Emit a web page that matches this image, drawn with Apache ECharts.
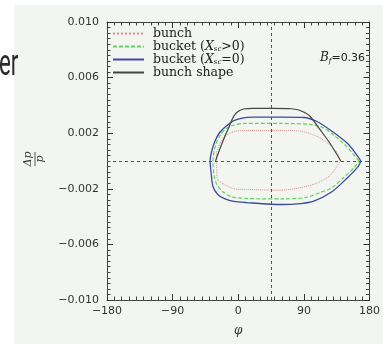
<!DOCTYPE html>
<html><head><meta charset="utf-8">
<script src="https://cdn.jsdelivr.net/npm/echarts@6/dist/echarts.min.js"></script>
<style>html,body{margin:0;padding:0;background:#fff}#c{width:383px;height:344px}</style>
</head><body><div id="c"></div>
<script>
// ---- data ----
const seriesNames = ['bunch', 'bucket (X_sc>0)', 'bucket (X_sc=0)', 'bunch shape'];
const xTicks = [-180, -90, 0, 90, 180];
const yTicks = [-0.010, -0.006, -0.002, 0.002, 0.006, 0.010];
const hLineY = 0;
const vLineX = 45;
const bunchPts = [[140.3,0],[135.5,0.00061],[125,0.00119],[107.6,0.00178],[85.7,0.00214],[59.6,0.00219],[20.3,0.00219],[-2,0.00216],[-10.2,0.00203],[-19,0.00176],[-25.5,0.00119],[-29.5,0.00061],[-30.1,0],[-29.5,-0.00061],[-28.1,-0.00133],[-19,-0.00169],[-5.9,-0.002],[13.7,-0.00205],[59.6,-0.0021],[102.8,-0.00169],[125,-0.00109],[135.5,-0.00037],[140.3,0]];
const bucketScPts = [[165.6,0],[148.6,0.00104],[131.6,0.00183],[115.9,0.00241],[98.8,0.00263],[59.6,0.0027],[7.2,0.0027],[-5.9,0.00259],[-16.4,0.00234],[-24.2,0.00191],[-30.8,0.00119],[-34.7,0],[-33.4,-0.00097],[-29.5,-0.00169],[-21.6,-0.00219],[-8.5,-0.00259],[13.7,-0.0027],[59.6,-0.00273],[92.3,-0.00263],[112,-0.00227],[129,-0.00191],[144.6,-0.00119],[159,-0.00047],[165.6,0]];
const bucketPts = [[168.3,0],[151.3,0.00119],[129,0.00212],[108,0.00284],[89.7,0.00313],[59.6,0.00315],[20.3,0.00315],[7.2,0.00311],[-5.9,0.00291],[-16.8,0.0025],[-25.5,0.00205],[-32,0.00142],[-36.4,0.0007],[-38.6,0],[-37.3,-0.00083],[-34.7,-0.00183],[-28.1,-0.00241],[-19,-0.0027],[-5.9,-0.00291],[11.1,-0.00299],[59.6,-0.00313],[85.7,-0.00306],[102.8,-0.00291],[129,-0.00219],[147.3,-0.00133],[164.3,-0.0004],[168.3,0]];
const shapePts = [[-31.2,0],[-25.5,0.00083],[-19,0.00169],[-12.4,0.00248],[-8.5,0.00299],[-3.3,0.00342],[2,0.00363],[7.2,0.00374],[20.3,0.00378],[46.5,0.00378],[72.6,0.00376],[83,0.00367],[92.3,0.00345],[98.8,0.0032],[112,0.00227],[125,0.00133],[140.7,0]];

const legendRich = {
  'bunch': 'bunch',
  'bucket (X_sc>0)': 'bucket ({i|X}{s|sc}>0)',
  'bucket (X_sc=0)': 'bucket ({i|X}{s|sc}=0)',
  'bunch shape': 'bunch shape'
};
const minus = v => String(v).replace('-', '\u2212');
const fmtY = v => minus((Math.round(v*1000)/1000).toFixed(3));

const chart = echarts.init(document.getElementById('c'));
const tickStyle = {color: '#333', width: 1};
const axisCommon = {
  type: 'value',
  axisLine: {show: true, onZero: false, lineStyle: {color: '#444', width: 1}},
  axisTick: {show: true, inside: true, length: 6, lineStyle: tickStyle},
  splitLine: {show: false},
  minorSplitLine: {show: false}
};
const labelStyle = {color: '#333', fontFamily: 'DejaVu Sans', fontSize: 11};
const lineSeries = (name, data, color, type, width) => ({
  name, type: 'line', data, showSymbol: false, symbol: 'none', smooth: 0.25,
  lineStyle: {color, type, width}, itemStyle: {color}, z: 3, animation: false
});
const xMinor = {show: true, splitNumber: 9, length: 3.5, lineStyle: {color: '#444', width: 1}};
const yMinor = {show: true, splitNumber: 10, length: 3.5, lineStyle: {color: '#444', width: 1}};
chart.setOption({
  animation: false,
  backgroundColor: 'transparent',
  grid: {left: 107, right: 1, top: 22, bottom: 44},
  xAxis: [
    Object.assign({}, axisCommon, {min: xTicks[0], max: xTicks[xTicks.length-1], interval: 90, position: 'bottom',
      minorTick: xMinor,
      axisLabel: Object.assign({}, labelStyle, {margin: 6, formatter: v => minus(v)}),
      name: 'φ', nameLocation: 'middle', nameGap: 25,
      nameTextStyle: {fontFamily: 'DejaVu Serif', fontStyle: 'italic', fontSize: 12, color: '#333'}}),
    Object.assign({}, axisCommon, {min: xTicks[0], max: xTicks[xTicks.length-1], interval: 90, position: 'top',
      minorTick: xMinor, axisLabel: {show: false}})
  ],
  yAxis: [
    Object.assign({}, axisCommon, {min: yTicks[0], max: yTicks[yTicks.length-1], interval: 0.004, position: 'left',
      minorTick: yMinor,
      axisLabel: Object.assign({}, labelStyle, {margin: 8, formatter: fmtY})}),
    Object.assign({}, axisCommon, {min: yTicks[0], max: yTicks[yTicks.length-1], interval: 0.004, position: 'right',
      minorTick: yMinor, axisLabel: {show: false}})
  ],
  legend: {
    orient: 'vertical', left: 112, top: 27, padding: 0, itemGap: 0, itemWidth: 31, itemHeight: 12,
    data: seriesNames,
    itemStyle: {opacity: 0},
    formatter: n => legendRich[n],
    textStyle: {fontFamily: 'DejaVu Serif', fontSize: 12.5, color: '#222', padding: [0,0,0,4],
      rich: {
        i: {fontFamily: 'DejaVu Serif', fontStyle: 'italic', fontSize: 12.5, color: '#222'},
        s: {fontFamily: 'DejaVu Serif', fontStyle: 'italic', fontSize: 7, color: '#222', verticalAlign: 'bottom', padding: [6,0,0,0]}
      }}
  },
  series: [
    lineSeries(seriesNames[0], bunchPts, '#d4938a', 'dotted', 1),
    lineSeries(seriesNames[1], bucketScPts, '#5fd35f', [4,2], 1.2),
    lineSeries(seriesNames[2], bucketPts, '#3c4aa0', 'solid', 1.3),
    lineSeries(seriesNames[3], shapePts, '#454545', 'solid', 1.2),
    {
      type: 'line', data: [], silent: true, z: 2,
      markLine: {silent: true, symbol: 'none', label: {show: false}, animation: false,
        lineStyle: {color: '#555', type: [3,3], width: 1},
        data: [{yAxis: hLineY}, {xAxis: vLineX}]}
    }
  ],
  graphic: [
    {type: 'rect', z: -100, silent: true, shape: {x: 14, y: 5, width: 369, height: 339}, style: {fill: '#f3f5f1'}},
    {type: 'text', z: 10, x: -1, y: 48, scaleX: 0.62, style: {text: 'er', font: '36px Roboto', fill: '#2b2b2b'}},
    {type: 'text', z: 10, x: 320, y: 51, style: {
      text: '{b|B}{s|f}{n|=0.36}',
      rich: {
        b: {font: 'italic 12px "DejaVu Serif"', fill: '#222'},
        s: {font: 'italic 7px "DejaVu Serif"', fill: '#222', padding: [7,0,0,0]},
        n: {font: '11px "DejaVu Sans"', fill: '#222'}
      }}},
    {type: 'group', x: 35, y: 159, rotation: Math.PI/2, z: 10, children: [
      {type: 'text', style: {text: 'Δp', font: 'italic 11px "DejaVu Serif"', fill: '#333', align: 'center', verticalAlign: 'bottom'}, y: -1},
      {type: 'line', shape: {x1: -7, y1: 0, x2: 7, y2: 0}, style: {stroke: '#333', lineWidth: 0.8}},
      {type: 'text', style: {text: 'p', font: 'italic 11px "DejaVu Serif"', fill: '#333', align: 'center', verticalAlign: 'top'}, y: 0}
    ]}
  ]
});
</script></body></html>
